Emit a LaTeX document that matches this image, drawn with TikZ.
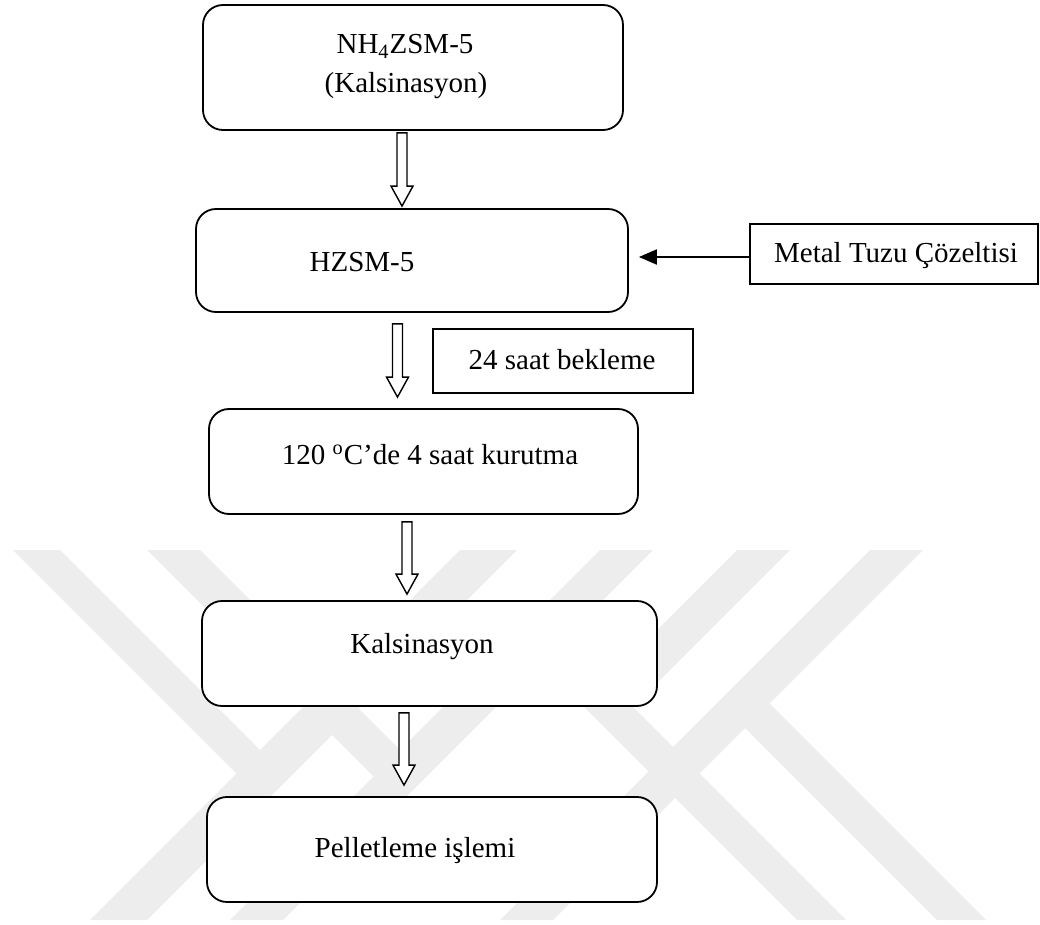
\documentclass[tikz,border=0pt]{standalone}
\usepackage{fontspec}
\setmainfont{Liberation Serif}
\usetikzlibrary{arrows.meta,calc}
\tikzset{
  box/.style={draw, line width=0.9pt, rounded corners=10pt, fill=white, inner sep=0pt},
  sqbox/.style={draw, line width=0.9pt, fill=white, inner sep=0pt},
  lbl/.style={anchor=base, inner sep=0pt, font=\fontsize{14.5pt}{17pt}\selectfont},
  wm/.style={fill=black!7, draw=none},
  blockarr/.style={draw, line width=0.7pt, fill=white, line join=miter,
    to path={let \p1=(\tikztostart), \p2=(\tikztotarget) in
      (\x1-2.5pt,\y1) -- (\x1-2.5pt,\y2+10pt) -- (\x1-5.5pt,\y2+10pt) -- (\x1,\y2)
      -- (\x1+5.5pt,\y2+10pt) -- (\x1+2.5pt,\y2+10pt) -- (\x1+2.5pt,\y1) -- cycle}},
  feed/.style={line width=1pt, -{Triangle[length=9pt,width=7.5pt]}, shorten >=5pt}
}
\begin{document}
\begin{tikzpicture}[x=0.5pt,y=-0.5pt]
\useasboundingbox (0,0) rectangle (1040,925);
% watermark
\begin{scope}
  \clip (0,550) rectangle (1040,920);
  \fill[wm] (13,550) -- (60,550) -- (260,750) -- (236.5,773.5) -- cycle;
  \fill[wm] (460,550) -- (517,550) -- (147,920) -- (90,920) -- cycle;
  \fill[wm] (147,550) -- (200,550) -- (400,750) -- (373.5,776.5) -- cycle;
  \fill[wm] (600,550) -- (653,550) -- (283,920) -- (230,920) -- cycle;
  \fill[wm] (737,550) -- (790,550) -- (633,707) -- (846,920) -- (797,920) -- (582,705) -- cycle;
  \fill[wm] (870,550) -- (923,550) -- (553,920) -- (500,920) -- cycle;
  \fill[wm] (769.5,703.5) -- (986,920) -- (937,920) -- (745,728) -- cycle;
\end{scope}
% boxes
\node[box, minimum width=210pt, minimum height=62.5pt] (b1) at (413,67.5) {};
\node[box, minimum width=216pt, minimum height=51.5pt] (b2) at (412,260.5) {};
\node[box, minimum width=214.5pt, minimum height=52.5pt] (b3) at (423.5,461.5) {};
\node[box, minimum width=227.5pt, minimum height=52.5pt] (b4) at (429.5,653.5) {};
\node[box, minimum width=225pt, minimum height=52.5pt] (b5) at (432,849.5) {};
\node[sqbox, minimum width=130pt, minimum height=32pt] (wait) at (563,361) {};
\node[sqbox, minimum width=144pt, minimum height=30pt] (metal) at (894,254) {};
% texts
\node[lbl] (t1a) at (405,54) {NH\textsubscript{4}ZSM-5};
\node[lbl] (t1b) at (406,93) {(Kalsinasyon)};
\node[lbl] (t2) at (362,272) {HZSM-5};
\node[lbl] (t3) at (430,465) {120 \textsuperscript{o}C’de 4 saat kurutma};
\node[lbl] (t4) at (422,653) {Kalsinasyon};
\node[lbl] (t5) at (415,857) {Pelletleme işlemi};
\node[lbl] (t6) at (562,370) {24 saat bekleme};
\node[lbl] (t7) at (896,263) {Metal Tuzu Çözeltisi};
% block arrows
\coordinate (a1s) at ($(b1.south)+(-11,2)$);
\coordinate (a1t) at ($(b2.north)+(-10,-2)$);
\coordinate (a2s) at ($(b2.south)+(-14.5,11)$);
\coordinate (a2t) at ($(b3.north)+(-26,-11)$);
\coordinate (a3s) at ($(b3.south)+(-16.5,7)$);
\coordinate (a3t) at ($(b4.north)+(-22.5,-6)$);
\coordinate (a4s) at ($(b4.south)+(-25.5,6)$);
\coordinate (a4t) at ($(b5.north)+(-28,-11)$);
\path[blockarr] (a1s) to (a1t);
\path[blockarr] (a2s) to (a2t);
\path[blockarr] (a3s) to (a3t);
\path[blockarr] (a4s) to (a4t);
% feed arrow
\draw[feed] ([yshift=-1.5pt]metal.west) -- ([yshift=-1.5pt]metal.west -| b2.east);
\end{tikzpicture}
\end{document}
